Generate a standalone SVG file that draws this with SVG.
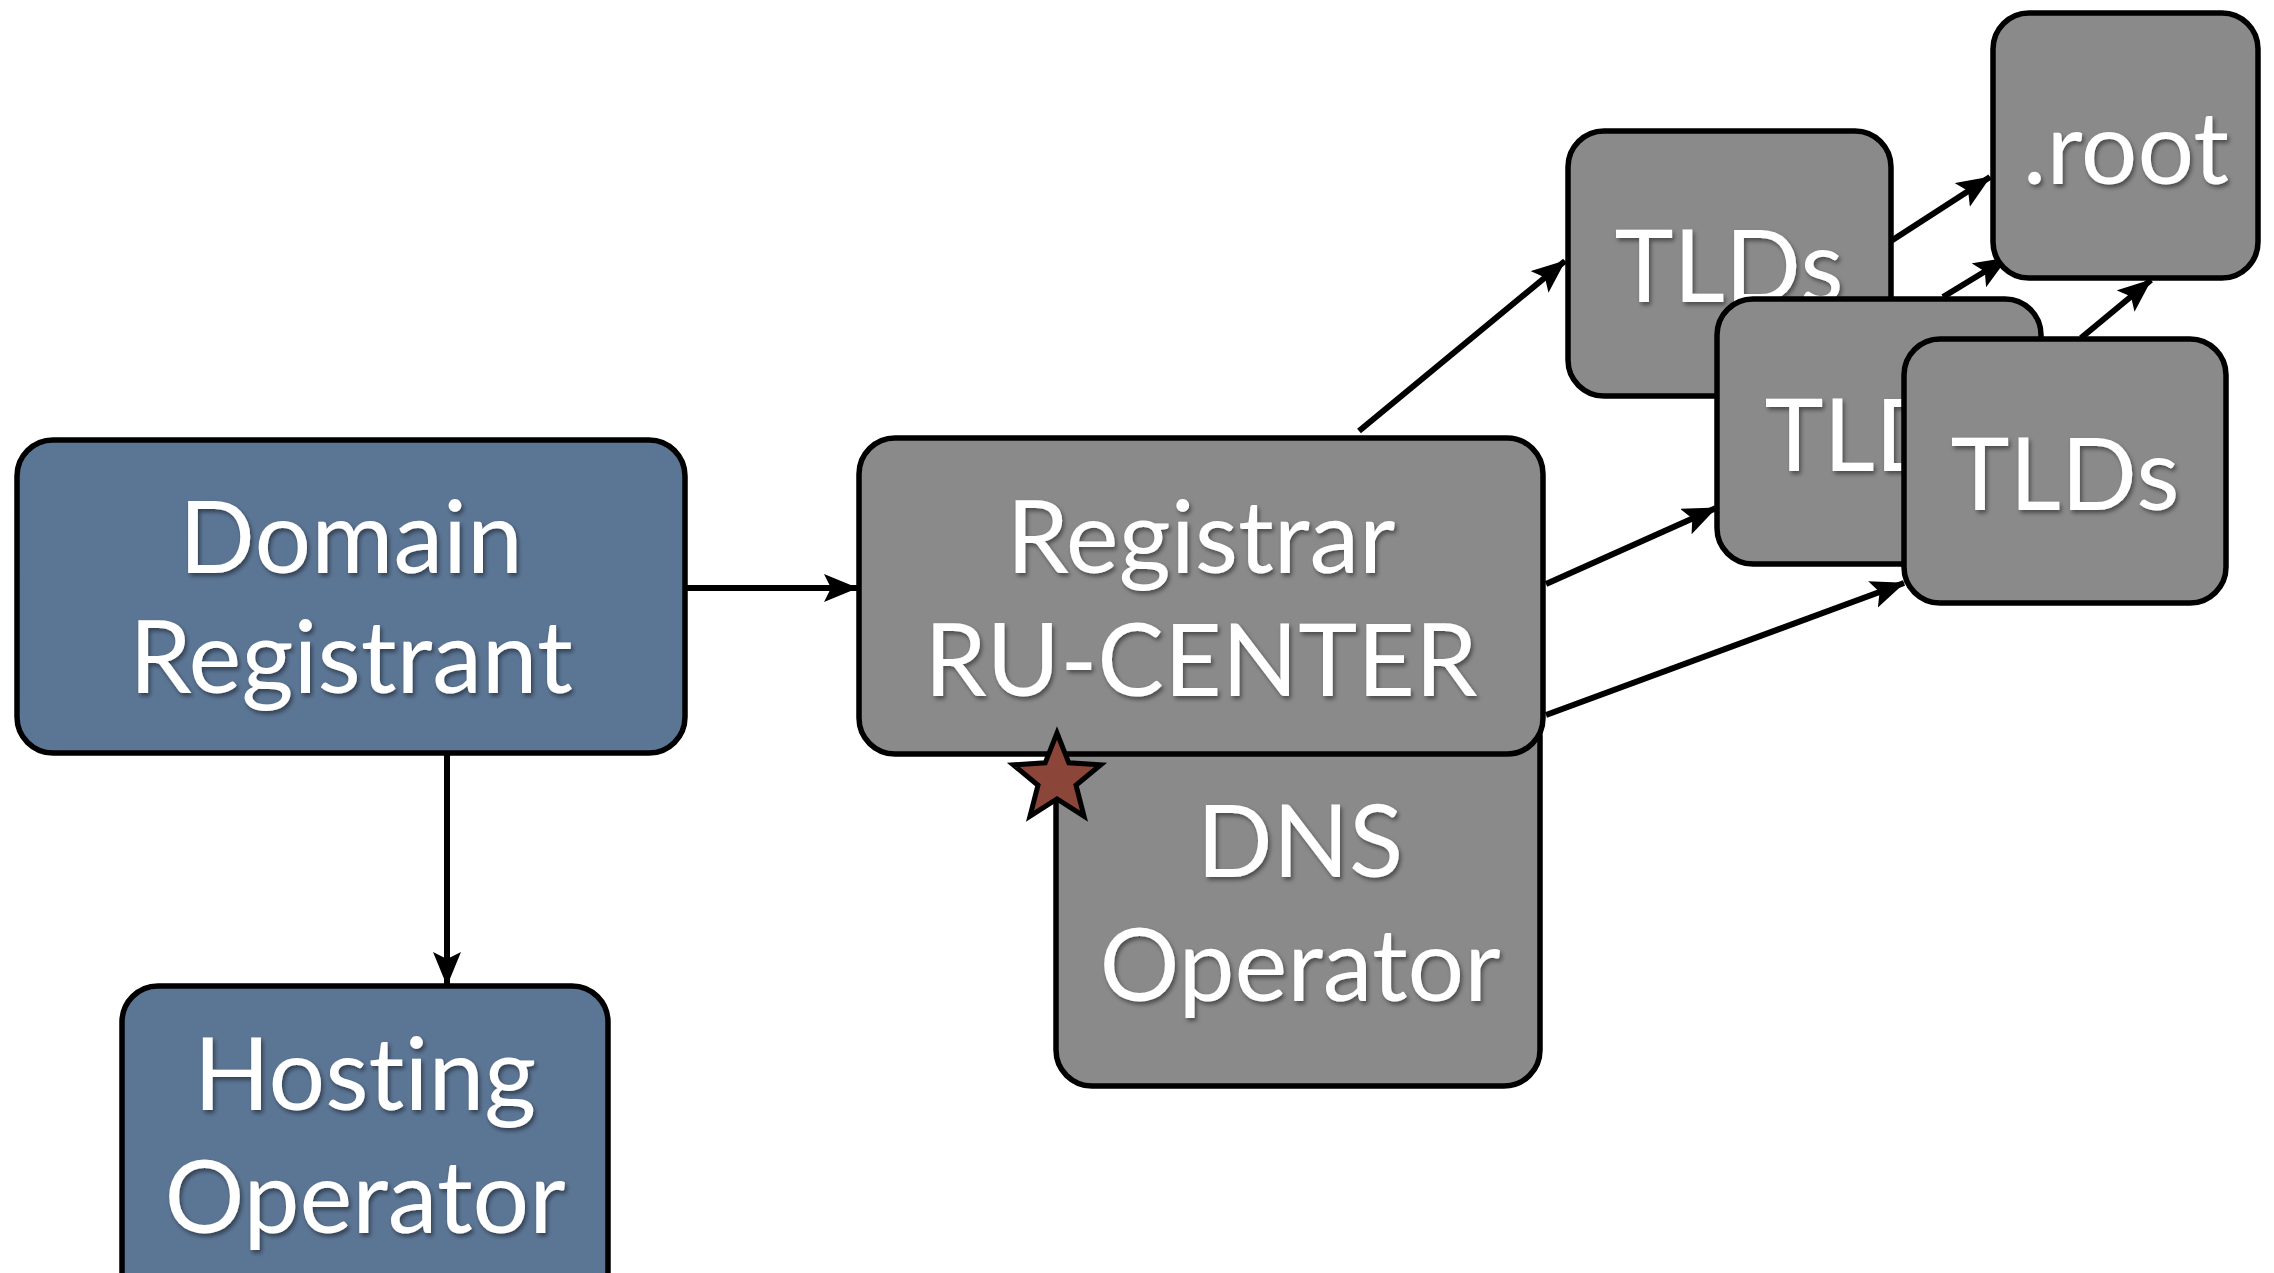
<svg xmlns="http://www.w3.org/2000/svg" width="2274" height="1273" viewBox="0 0 2274 1273">
<defs>
<style>
.blue{fill:#5b7594;stroke:#000;stroke-width:5.5}
.gray{fill:#8a8a8a;stroke:#000;stroke-width:5.5}
.lbl{font-family:Lato,"Open Sans","Liberation Sans",sans-serif;font-size:100px;fill:#fff;text-anchor:middle;font-variant-ligatures:none;font-feature-settings:"liga" 0,"clig" 0;filter:url(#sh)}
.conn{stroke:#000;stroke-width:6;fill:none;marker-end:url(#ah)}
</style>
<filter id="sh" x="-10%" y="-20%" width="130%" height="150%">
<feDropShadow dx="2" dy="3" stdDeviation="2" flood-color="#000" flood-opacity="0.45"/>
</filter>
<marker id="ah" markerUnits="userSpaceOnUse" markerWidth="36" markerHeight="30" refX="33" refY="14" orient="auto">
<path d="M0,0 L34,14 L0,28 L7,14 Z" fill="#000"/>
</marker>
</defs>
<rect width="2274" height="1273" fill="#fff"/>
<g id="connectors">
<line class="conn" x1="685" y1="588" x2="857" y2="588"/>
<line class="conn" x1="447" y1="753" x2="447" y2="985"/>
<line class="conn" x1="1359" y1="431" x2="1565" y2="261"/>
<line class="conn" x1="1546" y1="584" x2="1716" y2="508"/>
<line class="conn" x1="1546" y1="715" x2="1904" y2="583"/>
<line class="conn" x1="1891" y1="241" x2="1990" y2="177"/>
<line class="conn" x1="1943" y1="297" x2="2007" y2="258"/>
<line class="conn" x1="2081" y1="338" x2="2151" y2="280"/>
</g>
<g id="domain-registrant">
<rect class="blue" x="17" y="440" width="668" height="313" rx="36"/>
<text class="lbl" x="351" y="573">Domain</text>
<text class="lbl" x="351" y="693">Registrant</text>
</g>
<g id="hosting-operator">
<rect class="blue" x="122" y="986" width="486" height="330" rx="36"/>
<text class="lbl" x="365" y="1110">Hosting</text>
<text class="lbl" x="365" y="1233">Operator</text>
</g>
<g id="dns-operator">
<rect class="gray" x="1056" y="700" width="484" height="386" rx="36"/>
<text class="lbl" x="1300" y="877">DNS</text>
<text class="lbl" x="1300" y="1001">Operator</text>
</g>
<g id="registrar">
<rect class="gray" x="859" y="438" width="684" height="316" rx="36"/>
<text class="lbl" x="1201" y="573">Registrar</text>
<text class="lbl" x="1201" y="696">RU-CENTER</text>
</g>
<g id="star">
<polygon points="1057,733 1068.8,762.8 1100.7,764.8 1076,785.2 1084,816.2 1057,799 1030,816.2 1038,785.2 1013.3,764.8 1045.2,762.8" fill="#8b4539" stroke="#000" stroke-width="5" stroke-linejoin="miter"/>
</g>
<g id="tlds-1">
<rect class="gray" x="1568" y="131" width="323" height="265" rx="36"/>
<text class="lbl" x="1729" y="302">TLDs</text>
</g>
<g id="tlds-2">
<rect class="gray" x="1717" y="299" width="324" height="265" rx="36"/>
<text class="lbl" x="1879" y="471">TLDs</text>
</g>
<g id="tlds-3">
<rect class="gray" x="1904" y="339" width="322" height="264" rx="36"/>
<text class="lbl" x="2065" y="510">TLDs</text>
</g>
<g id="root">
<rect class="gray" x="1993" y="13" width="265" height="265" rx="36"/>
<text class="lbl" x="2126" y="184">.root</text>
</g>
</svg>
